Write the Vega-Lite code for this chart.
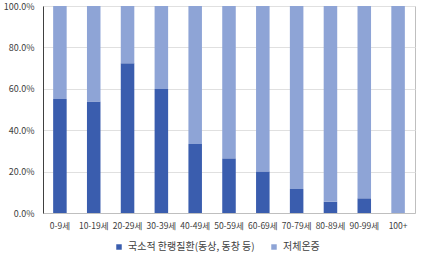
{
  "$schema": "https://vega.github.io/schema/vega-lite/v6.json",
  "autosize": "none",
  "width": 372,
  "height": 207,
  "padding": {"left": 43, "top": 6, "right": 6, "bottom": 47},
  "background": "white",
  "config": {
    "font": "Noto Sans CJK KR",
    "view": {"stroke": "#BFBFBF", "strokeWidth": 1}
  },
  "data": {
    "values": [
      {"age": "0-9세", "type": "국소적 한랭질환(동상, 동창 등)", "pct": 55.1},
      {"age": "0-9세", "type": "저체온증", "pct": 44.9},
      {"age": "10-19세", "type": "국소적 한랭질환(동상, 동창 등)", "pct": 53.9},
      {"age": "10-19세", "type": "저체온증", "pct": 46.1},
      {"age": "20-29세", "type": "국소적 한랭질환(동상, 동창 등)", "pct": 72.3},
      {"age": "20-29세", "type": "저체온증", "pct": 27.7},
      {"age": "30-39세", "type": "국소적 한랭질환(동상, 동창 등)", "pct": 59.9},
      {"age": "30-39세", "type": "저체온증", "pct": 40.1},
      {"age": "40-49세", "type": "국소적 한랭질환(동상, 동창 등)", "pct": 33.3},
      {"age": "40-49세", "type": "저체온증", "pct": 66.7},
      {"age": "50-59세", "type": "국소적 한랭질환(동상, 동창 등)", "pct": 26.4},
      {"age": "50-59세", "type": "저체온증", "pct": 73.6},
      {"age": "60-69세", "type": "국소적 한랭질환(동상, 동창 등)", "pct": 20.1},
      {"age": "60-69세", "type": "저체온증", "pct": 79.9},
      {"age": "70-79세", "type": "국소적 한랭질환(동상, 동창 등)", "pct": 11.6},
      {"age": "70-79세", "type": "저체온증", "pct": 88.4},
      {"age": "80-89세", "type": "국소적 한랭질환(동상, 동창 등)", "pct": 5.5},
      {"age": "80-89세", "type": "저체온증", "pct": 94.5},
      {"age": "90-99세", "type": "국소적 한랭질환(동상, 동창 등)", "pct": 7.1},
      {"age": "90-99세", "type": "저체온증", "pct": 92.9},
      {"age": "100+", "type": "국소적 한랭질환(동상, 동창 등)", "pct": 0},
      {"age": "100+", "type": "저체온증", "pct": 100}
    ]
  },
  "mark": {"type": "bar"},
  "encoding": {
    "x": {
      "field": "age", "type": "nominal", "sort": null,
      "scale": {"paddingInner": 0.6, "paddingOuter": 0.3},
      "axis": {
        "title": null, "labelAngle": 0, "labelFontSize": 8.5, "labelColor": "#404040",
        "ticks": false, "domainColor": "#BFBFBF", "labelPadding": 8
      }
    },
    "y": {
      "field": "pct", "type": "quantitative", "stack": "zero",
      "scale": {"domain": [0, 100]},
      "axis": {
        "title": null, "values": [0, 20, 40, 60, 80, 100],
        "labelExpr": "format(datum.value, '.1f') + '%'",
        "labelFontSize": 9, "labelColor": "#404040",
        "ticks": false, "domainColor": "#404040", "gridColor": "#E0E0E0",
        "labelPadding": 9
      }
    },
    "color": {
      "field": "type", "type": "nominal",
      "scale": {
        "domain": ["국소적 한랭질환(동상, 동창 등)", "저체온증"],
        "range": ["#3A5DAE", "#8EA4D6"]
      },
      "legend": {
        "title": null, "orient": "none", "direction": "horizontal",
        "legendX": 71, "legendY": 236,
        "symbolType": "square", "symbolSize": 30, "symbolStrokeWidth": 0,
        "labelFontSize": 10, "labelColor": "#404040", "columnPadding": 14, "symbolOffset": 0
      }
    },
    "order": {"field": "type", "sort": "ascending"}
  }
}
